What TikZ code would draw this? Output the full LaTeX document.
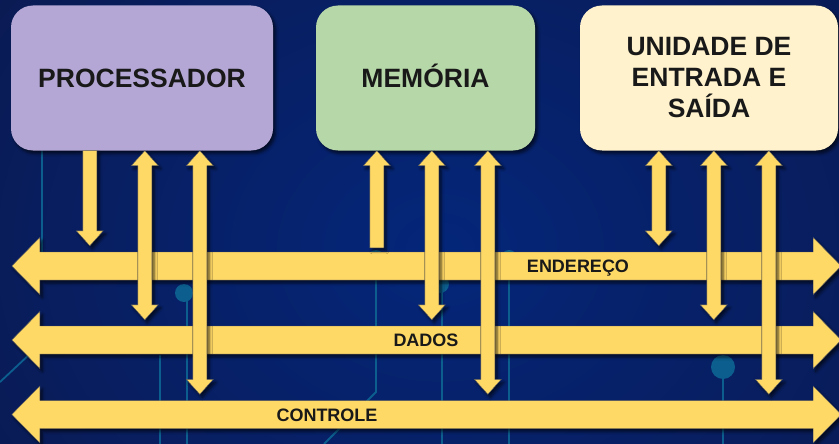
\documentclass[tikz,border=0pt]{standalone}
\usepackage{fontspec}
\setmainfont{Liberation Sans}
\usetikzlibrary{calc,shadows.blur}

\definecolor{bgdark}{RGB}{10,26,82}
\definecolor{bglight}{RGB}{4,38,122}
\definecolor{trace}{RGB}{12,94,142}
\definecolor{busyellow}{RGB}{255,217,102}
\definecolor{procfill}{RGB}{180,167,214}
\definecolor{memfill}{RGB}{182,215,168}
\definecolor{iofill}{RGB}{255,242,204}

\tikzset{
  softshadow/.style={blur shadow={shadow xshift=2.5pt, shadow yshift=-3pt,
      shadow blur radius=3pt, shadow opacity=65}},
  unitbox/.style={rectangle, rounded corners=22pt, minimum height=145pt,
      inner sep=0pt, align=center, text=black!90, softshadow,
      font=\bfseries\fontsize{26.5}{31}\selectfont},
  oneline/.style={text height=19pt, text depth=0pt},
  busbody/.style={rectangle, minimum width=773pt, minimum height=28pt, inner sep=0pt},
  buslabel/.style={anchor=base, inner sep=0pt, text=black!90,
      font=\bfseries\fontsize{18}{18}\selectfont},
  blockarrow/.style={fill=busyellow, draw=black!65, line width=0.4pt, softshadow},
  traceline/.style={draw=trace, line width=1.8pt},
}

% double-headed bus arrow built around an invisible body node
\newcommand{\busarrow}[1]{%
  \path[blockarrow] let \p1=(#1.west), \p2=(#1.east) in
    (\x1-28pt,\y1) -- (\x1,\y1+28.5pt) -- (\x1,\y1+14pt) -- (\x2,\y2+14pt)
    -- (\x2,\y2+28.5pt) -- (\x2+28pt,\y2) -- (\x2,\y2-28.5pt) -- (\x2,\y2-14pt)
    -- (\x1,\y1-14pt) -- (\x1,\y1-28.5pt) -- cycle;}

% block arrow from a unit down onto a bus
\newcommand{\arrdown}[2]{%
  \path[blockarrow] let \p1=(#1), \p2=(#2.north) in
    (\x1-7pt,\y1) -- (\x1+7pt,\y1) -- (\x1+7pt,\y2+21pt) -- (\x1+13.5pt,\y2+21pt)
    -- (\x1,\y2+6pt) -- (\x1-13.5pt,\y2+21pt) -- (\x1-7pt,\y2+21pt) -- cycle;}

% block arrow from a bus up into a unit
\newcommand{\arrup}[2]{%
  \path[blockarrow] let \p1=(#1), \p2=(#2.north) in
    (\x1,\y1) -- (\x1+13.5pt,\y1-15pt) -- (\x1+7pt,\y1-15pt) -- (\x1+7pt,\y2+4pt)
    -- (\x1-7pt,\y2+4pt) -- (\x1-7pt,\y1-15pt) -- (\x1-13.5pt,\y1-15pt) -- cycle;}

% two-way block arrow between a unit and a bus
\newcommand{\arrboth}[2]{%
  \path[blockarrow] let \p1=(#1), \p2=(#2.north) in
    (\x1,\y1) -- (\x1+13.5pt,\y1-15pt) -- (\x1+7pt,\y1-15pt) -- (\x1+7pt,\y2+21pt)
    -- (\x1+13.5pt,\y2+21pt) -- (\x1,\y2+6pt) -- (\x1-13.5pt,\y2+21pt)
    -- (\x1-7pt,\y2+21pt) -- (\x1-7pt,\y1-15pt) -- (\x1-13.5pt,\y1-15pt) -- cycle;}

\begin{document}
\begin{tikzpicture}[x=1pt,y=-1pt]
  \useasboundingbox (0,0) rectangle (839,444);
  \clip (0,0) rectangle (839,444);

  % backdrop
  \shade[inner color=bglight, outer color=bgdark] (-120,-200) rectangle (1000,700);

  % circuit traces
  \draw[traceline] (42,150) -- (42,260);
  \draw[traceline] (187,293) -- (187,444);
  \fill[trace] (184,293) circle[radius=9pt];
  \draw[traceline] (160,355) -- (160,444);
  \draw[traceline] (0,382) -- (32,352);
  \draw[traceline] (376,262) -- (376,392) -- (324,444);
  \fill[trace] (376,258) circle[radius=8pt];
  \draw[traceline] (442,282) -- (442,444);
  \fill[trace] (440,284) circle[radius=9pt];
  \draw[traceline] (509,258) -- (509,444);
  \fill[trace] (509,258) circle[radius=8pt];
  \draw[traceline] (723,368) -- (723,444);
  \fill[trace] (723,367) circle[radius=12pt];

  % functional units
  \node[unitbox, oneline, fill=procfill, minimum width=262pt] (proc) at (142,78) {PROCESSADOR};
  \node[unitbox, oneline, fill=memfill, minimum width=219pt] (mem) at (425.5,78) {MEMÓRIA};
  \node[unitbox, fill=iofill, minimum width=258pt] (io) at (709,78) {UNIDADE DE\\ENTRADA E\\SAÍDA};

  % buses
  \node[busbody] (addr) at (426.5,266) {};
  \node[busbody] (data) at (426.5,340) {};
  \node[busbody] (ctrl) at (426.5,414.5) {};
  \busarrow{addr}
  \busarrow{data}
  \busarrow{ctrl}
  \node[buslabel] (addrlbl) at (578,272.5) {ENDEREÇO};
  \node[buslabel] (datalbl) at (426,346.5) {DADOS};
  \node[buslabel] (ctrllbl) at (327,421) {CONTROLE};

  % connection points on the units
  \coordinate (p1) at ([xshift=79pt]proc.south west);
  \coordinate (p2) at ([xshift=134pt]proc.south west);
  \coordinate (p3) at ([xshift=189pt]proc.south west);
  \coordinate (m1) at ([xshift=61pt]mem.south west);
  \coordinate (m2) at ([xshift=116pt]mem.south west);
  \coordinate (m3) at ([xshift=172pt]mem.south west);
  \coordinate (i1) at ([xshift=79pt]io.south west);
  \coordinate (i2) at ([xshift=134pt]io.south west);
  \coordinate (i3) at ([xshift=189pt]io.south west);

  % unit-to-bus links
  \arrdown{p1}{addr}
  \arrboth{p2}{data}
  \arrboth{p3}{ctrl}
  \arrup{m1}{addr}
  \arrboth{m2}{data}
  \arrboth{m3}{ctrl}
  \arrboth{i1}{addr}
  \arrboth{i2}{data}
  \arrboth{i3}{ctrl}
\end{tikzpicture}
\end{document}
